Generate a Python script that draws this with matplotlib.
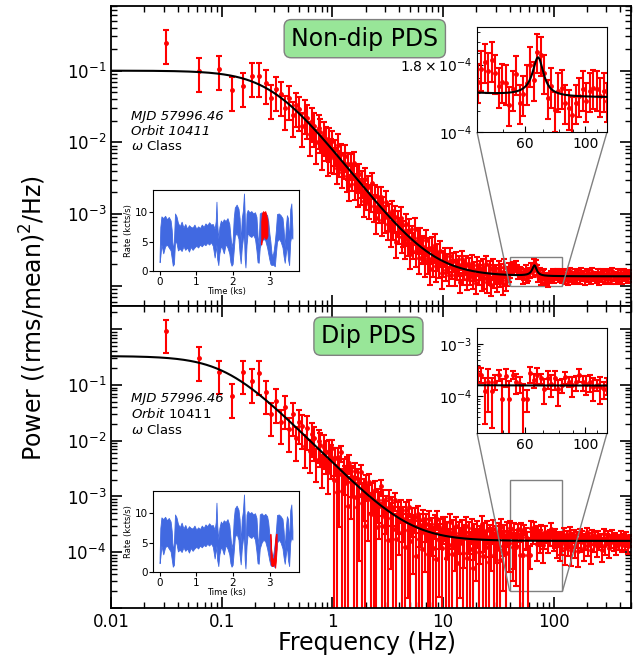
import numpy as np
import matplotlib
matplotlib.use("Agg")
import matplotlib.pyplot as plt
from matplotlib.ticker import LogLocator, NullFormatter, FixedLocator
from mpl_toolkits.axes_grid1.inset_locator import mark_inset

# frequency bins: 1/32 Hz steps below 1 Hz, then log bins (x1.03) up to 500 Hz
freq_lin = np.arange(1, 32) / 32.0
freq_log = 1.03 ** np.arange(211)

# ---- Non-dip PDS (top) ----
p_top_lin = [0.245, 0.100, 0.106, 0.054, 0.062, 0.085, 0.085, 0.068, 0.042, 0.055,
             0.047, 0.030, 0.041, 0.024, 0.033, 0.029, 0.017, 0.026, 0.022, 0.013,
             0.020, 0.017, 0.010, 0.016, 0.014, 0.0082, 0.013, 0.011, 0.0068, 0.0105,
             0.0075]
# in units of 1e-4
p_top_log = [103, 60, 78, 44, 92, 54, 68, 38, 51, 65,
             34, 50, 25, 49, 35, 52, 26, 33, 21, 36,
             22, 28, 15, 31, 19, 24, 14, 18, 27, 13,
             18, 8.8, 17, 12.5, 17, 8.3, 12.4, 9.1, 14.8, 7.3,
             9.7, 5.7, 10.9, 7.2, 9.1, 4.0, 7.9, 6.3, 8.8, 4.8,
             5.7, 3.9, 7.2, 4.3, 6.0, 2.8, 4.8, 3.9, 6.2, 3.0,
             4.6, 2.4, 4.6, 3.3, 3.5, 2.2, 4.3, 2.4, 3.3, 1.7,
             3.4, 2.2, 3.7, 1.9, 2.7, 2.1, 3.0, 1.5, 2.2,
             2.57, 1.67, 2.15, 1.41, 2.56, 1.75, 2.19, 1.40, 2.30, 1.72,
             1.97, 1.14, 2.35, 1.46, 1.70, 2.02, 1.25, 1.89, 1.47, 2.09,
             1.28, 1.66, 1.10, 1.95, 1.47, 1.69, 1.22, 1.81, 1.28, 2.01,
             1.12, 1.48, 1.69, 1.03, 1.83, 1.31, 1.51, 1.15, 1.72, 1.36,
             1.56, 1.07, 1.83, 1.20, 1.40, 1.61,
             1.55, 1.73, 1.84, 1.70, 1.87, 1.68, 1.49, 1.55, 1.53, 1.27,
             1.45, 1.66, 1.29, 1.39, 1.53, 1.79, 1.58, 2.01, 1.96, 1.68,
             1.35, 1.49, 1.21, 1.43, 1.47, 1.29, 1.23, 1.16, 1.29, 1.37,
             1.45, 1.31, 1.43, 1.47, 1.45, 1.37, 1.43, 1.31,
             1.51, 1.23, 1.44, 1.16, 1.58, 1.30, 1.37, 1.21, 1.53, 1.27,
             1.48, 1.23, 1.56, 1.32, 1.40, 1.18, 1.51, 1.29, 1.45, 1.22,
             1.55, 1.33, 1.37, 1.25, 1.49, 1.19, 1.53, 1.30, 1.42, 1.23,
             1.52, 1.27, 1.47, 1.21, 1.58, 1.32, 1.38, 1.23, 1.51, 1.29,
             1.44, 1.22, 1.53, 1.33, 1.41, 1.26, 1.48, 1.30]
# relative errors of the top PDS per frequency band (number of bins, rel. error)
top_err_bins = [79, 46, 38, 48]
top_err_rel = [0.40, 0.30, 0.17, 0.13]
top_err_lin_rel = 0.5

# fitted model: zero-centred Lorentzian + constant + QPO
top_fit = dict(amp=0.1, f0=0.29, const=1.35e-4, q_amp=0.55e-4, q_f=67.0, q_hw=3.5)

# ---- Dip PDS (bottom) ----
p_bot_lin = [0.93, 0.30, 0.17, 0.064, 0.17, 0.12, 0.165, 0.075, 0.030, 0.052,
             0.022, 0.040, 0.016, 0.030, 0.011, 0.022, 0.018, 0.008, 0.017, 0.0065,
             0.013, 0.011, 0.0045, 0.0098, 0.0085, 0.0035, 0.0078, 0.0062, 0.0028, 0.0065,
             0.0052]
bot_err_lin_rel = 0.6
p_bot_log = [74, 19.4, 48, 12.1, 52, 24.8, 62, 12.5, 28.8, 17.4,
             35, 6.7, 40, 17.9, 22.7, 9.8, 28.7, 6.4, 20.5, 10.8,
             27.4, 7.8, 12.3, 2.9, 16.1, 9.0, 18.2, 4.8, 11.4, 5.7,
             13.3, 2.8, 8.6, 6.8, 15.2, 3.0, 8.8, 4.2, 6.1, 1.65,
             9.3, 4.1, 6.4, 2.6, 8.6, 1.75, 5.1, 3.7, 6.1, 2.3,
             4.0, 1.24, 5.7, 2.5, 6.5, 1.57, 4.0, 2.5, 4.2, 0.84,
             4.9, 1.74, 3.1, 1.15, 4.0, 2.2, 3.2, 0.94, 3.9, 1.59,
             2.45, 1.21, 3.2, 0.75, 4.0, 1.66, 2.55, 1.21, 2.8,
             2.96, 0.78, 2.12, 1.34, 3.42, 0.94, 2.43, 1.67, 2.94, 0.64,
             2.18, 1.45, 2.61, 0.98, 1.78, 3.01, 0.79, 2.19, 1.13, 2.68,
             0.52, 1.97, 1.45, 2.38, 1.01, 1.77, 3.19, 0.84, 2.17, 1.25,
             2.49, 0.66, 1.98, 1.57, 2.62, 0.90, 1.80, 1.14, 2.20, 0.73,
             2.84, 1.30, 1.94, 0.97, 2.33, 1.45,
             2.7, 2.6, 1.25, 1.9, 1.25, 1.9, 2.6, 0.9, 2.4, 0.9,
             2.6, 1.9, 1.75, 0.9, 0.9, 2.73, 2.03, 2.6, 2.2, 1.4,
             2.2, 1.75, 2.2, 1.35, 1.65, 2.35, 1.89, 1.65, 1.89, 2.6,
             1.89, 1.75, 1.89, 1.5, 1.65, 1.5, 1.4, 1.65,
             2.08, 1.20, 1.84, 1.44, 2.24, 1.12, 1.68, 2.00, 1.28, 1.76,
             1.04, 2.16, 1.52, 1.92, 1.20, 1.60, 2.32, 1.36, 1.76, 1.12,
             2.08, 1.44, 1.84, 1.28, 2.00, 1.52, 1.68, 1.12, 2.16, 1.36,
             1.76, 1.92, 1.20, 1.60, 2.08, 1.44, 1.84, 1.28, 1.68, 1.52,
             2.00, 1.36, 1.76, 1.44, 1.92, 1.28, 1.60, 1.68]
e_bot_log = [29, 27, 25, 24.5, 23, 22, 20, 19, 18, 17.5,
             16.6, 15.7, 14.9, 14, 13.1, 12.5, 11.8, 11.3, 10.7, 10.1,
             9.6, 9.1, 8.6, 8.2, 7.8, 7.4, 7.1, 6.7, 6.4, 6.1,
             5.8, 5.5, 5.3, 5.1, 4.8, 4.6, 4.4, 4.2, 4.0, 3.85,
             3.7, 3.6, 3.4, 3.3, 3.15, 3.05, 3.0, 2.8, 2.7, 2.6,
             2.5, 2.45, 2.35, 2.35, 2.3, 2.2, 2.1, 2.1, 2.0, 1.9,
             1.9, 1.85, 1.85, 1.75, 1.75, 1.75, 1.65, 1.65, 1.6, 1.6,
             1.6, 1.6, 1.5, 1.5, 1.5, 1.5, 1.4, 1.4, 1.4,
             1.4, 1.3, 1.35, 1.25, 1.4, 1.3, 1.3, 1.2, 1.35, 1.3,
             1.25, 1.3, 1.2, 1.3, 1.25, 1.3, 1.2, 1.25, 1.2, 1.3,
             1.2, 1.25, 1.15, 1.2, 1.2, 1.15, 1.25, 1.2, 1.15, 1.2,
             1.1, 1.2, 1.15, 1.1, 1.2, 1.1, 1.15, 1.1, 1.1, 1.15,
             1.05, 1.1, 1.1, 1.05, 1.1, 1.0,
             0.9, 0.8, 0.95, 1.4, 1.0, 0.6, 0.6, 1.2, 0.9, 1.1,
             0.5, 0.8, 0.6, 0.85, 0.4, 0.9, 0.6, 0.9, 0.5, 0.7,
             0.8, 0.8, 0.9, 0.7, 0.5, 0.6, 0.4, 0.7, 0.6, 0.7,
             0.6, 0.7, 0.7, 0.7, 0.4, 0.8, 0.5, 0.6,
             0.6, 0.6, 0.55, 0.6, 0.55, 0.55, 0.5, 0.55, 0.5, 0.55,
             0.5, 0.5, 0.5, 0.45, 0.5, 0.5, 0.45, 0.5, 0.45, 0.5,
             0.45, 0.45, 0.5, 0.45, 0.45, 0.4, 0.45, 0.45, 0.4, 0.45,
             0.4, 0.45, 0.4, 0.4, 0.45, 0.4, 0.4, 0.4, 0.35, 0.4,
             0.4, 0.35, 0.4, 0.35, 0.4, 0.35, 0.35, 0.4]
bot_fit = dict(amp=0.33, f0=0.11, const=1.6e-4, q_amp=0.0, q_f=67.0, q_hw=3.5)

# ---- light curve (kcts/s vs ks), lower/upper envelope of the 1 s curve ----
lc_t = [0.00, 0.02, 0.05, 0.10, 0.15, 0.20, 0.25, 0.30, 0.33, 0.36, 0.39, 0.42, 0.46,
        0.50, 0.55, 0.60, 0.65, 0.70, 0.75, 0.80, 0.85, 0.90, 0.95, 1.00, 1.05, 1.10,
        1.15, 1.20, 1.25, 1.30, 1.35, 1.40, 1.45, 1.50, 1.53, 1.55, 1.57, 1.60, 1.63,
        1.67, 1.70, 1.75, 1.80, 1.85, 1.90, 1.93, 1.96, 1.99, 2.02, 2.05, 2.10, 2.15,
        2.18, 2.21, 2.24, 2.27, 2.30, 2.32, 2.34, 2.37, 2.40, 2.45, 2.50, 2.55, 2.60,
        2.64, 2.67, 2.70, 2.73, 2.78, 2.83, 2.88, 2.93, 2.96, 2.99, 3.02, 3.05, 3.08,
        3.11, 3.14, 3.17, 3.20, 3.25, 3.30, 3.35, 3.38, 3.41, 3.44, 3.47, 3.50, 3.53,
        3.56, 3.59, 3.62]
lc_lo = [1.5, 2.5, 4.5, 3.0, 4.2, 4.5, 4.0, 3.5, 2.2, 0.9, 1.2, 5.0, 4.8,
         3.5, 3.8, 3.4, 4.2, 3.6, 4.0, 3.3, 4.1, 3.6, 4.0, 4.3, 4.0, 4.5,
         4.2, 4.6, 4.4, 4.8, 4.5, 4.9, 4.3, 2.3, 3.5, 4.5, 2.0, 1.0, 3.0,
         4.2, 4.0, 3.0, 4.6, 4.0, 3.0, 1.5, 0.9, 1.2, 3.5, 6.0, 6.5, 5.5,
         3.0, 1.3, 4.0, 5.5, 6.0, 2.0, 0.6, 4.5, 6.5, 6.0, 5.8, 6.2, 5.5,
         3.5, 1.5, 1.4, 4.0, 5.0, 5.5, 5.2, 4.0, 3.0, 2.0, 1.2, 1.0, 1.1,
         1.0, 0.8, 3.0, 5.0, 5.5, 5.0, 4.0, 2.5, 1.4, 3.0, 4.5, 2.0, 1.0,
         5.0, 6.0, 5.5]
lc_hi = [2.5, 7.5, 9.3, 9.0, 9.4, 8.8, 9.2, 8.6, 7.0, 3.5, 5.0, 9.8, 9.3,
         8.2, 7.6, 8.4, 7.4, 8.0, 7.2, 7.8, 7.5, 7.4, 7.9, 7.2, 7.6, 7.3,
         7.9, 7.5, 8.1, 7.8, 8.3, 7.9, 8.0, 7.2, 8.5, 11.8, 8.0, 5.5, 7.5,
         8.6, 8.2, 8.8, 8.5, 9.0, 8.0, 6.0, 4.0, 5.0, 9.0, 10.8, 11.3, 10.6,
         9.0, 5.0, 9.0, 10.3, 13.2, 9.5, 4.0, 9.8, 10.4, 10.0, 10.2, 9.8, 10.0,
         9.2, 6.0, 4.5, 9.8, 10.0, 9.6, 9.9, 9.5, 8.5, 6.5, 5.0, 3.0, 2.5,
         3.5, 5.0, 7.0, 9.7, 9.8, 9.5, 9.0, 7.0, 4.0, 7.5, 9.5, 9.0, 5.0,
         10.5, 11.5, 7.0]
# time span of each PDS selection (red)
sel_top_t = [2.77, 2.79, 2.82, 2.85, 2.88, 2.91, 2.94]
sel_top_lo = [4.5, 5.5, 5.5, 6.0, 5.5, 5.5, 6.0]
sel_top_hi = [8.5, 9.8, 10.2, 10.0, 10.2, 9.5, 8.5]
sel_bot_t = [3.02, 3.04, 3.07, 3.10, 3.13, 3.15, 3.17, 3.19]
sel_bot_lo = [2.0, 1.2, 1.0, 1.1, 1.5, 0.7, 2.0, 4.0]
sel_bot_hi = [6.5, 4.0, 2.5, 2.0, 3.0, 5.5, 6.5, 6.5]

# ------------------------------------------------------------------
freqs = np.concatenate([freq_lin, freq_log])
pt = np.concatenate([p_top_lin, np.array(p_top_log) * 1e-4])
et = np.concatenate([np.array(p_top_lin) * top_err_lin_rel,
                     np.array(p_top_log) * 1e-4 * np.repeat(top_err_rel, top_err_bins)])
pb = np.concatenate([p_bot_lin, np.array(p_bot_log) * 1e-4])
eb = np.concatenate([np.array(p_bot_lin) * bot_err_lin_rel, np.array(e_bot_log) * 1e-4])

fm = np.logspace(-2, np.log10(500), 2000)


def model(f, p):
    return (p['amp'] / (1 + (f / p['f0']) ** 2) + p['const']
            + p['q_amp'] / (1 + ((f - p['q_f']) / p['q_hw']) ** 2))


def draw_pds(ax, p, e, fit, ms=2.5):
    ax.errorbar(freqs, p, yerr=e, fmt='o', ms=ms, color='red', ecolor='red',
                elinewidth=1.5, capsize=2, capthick=1.5, zorder=2)
    ax.plot(fm, model(fm, fit), color='black', lw=1.5, zorder=3)
    ax.set_xscale('log')
    ax.set_yscale('log')


def style_main(ax):
    ax.tick_params(which='both', direction='in', top=True, right=True)
    ax.tick_params(which='major', length=8, width=1.2, labelsize=12)
    ax.tick_params(which='minor', length=4, width=1)
    for s in ax.spines.values():
        s.set_linewidth(1.3)
    ax.set_xlim(0.01, 500)
    ax.set_xticks([0.01, 0.1, 1, 10, 100], ['0.01', '0.1', '1', '10', '100'])


def draw_lc(ax, st, slo, shi):
    ax.fill_between(lc_t, lc_lo, lc_hi, color='royalblue', lw=0.6)
    ax.fill_between(st, slo, shi, color='red', lw=0.6)
    ax.set_xlim(-0.18, 3.80)
    ax.set_ylim(0, 13.8)
    ax.set_xticks([0, 1, 2, 3])
    ax.set_yticks([0, 5, 10])
    ax.tick_params(direction='out', length=3, width=0.8, labelsize=7.5, pad=1)
    ax.set_xlabel('Time (ks)', fontsize=6, labelpad=0)
    ax.set_ylabel('Rate (kcts/s)', fontsize=6, labelpad=1)


def draw_zoom(ax, parent, p, e, fit, ylim):
    draw_pds(ax, p, e, fit, ms=2.5)
    ax.set_xlim(40, 120)
    ax.set_ylim(*ylim)
    ax.xaxis.set_major_locator(FixedLocator([60, 100]))
    ax.set_xticklabels(['60', '100'])
    ax.xaxis.set_minor_locator(FixedLocator([40, 50, 70, 80, 90, 110, 120]))
    ax.xaxis.set_minor_formatter(NullFormatter())
    ax.tick_params(which='both', direction='in', labelsize=10)
    ax.tick_params(which='major', length=4)
    ax.tick_params(which='minor', length=2)
    mark_inset(parent, ax, loc1=3, loc2=4, fc='none', ec='0.5', lw=1)


fig = plt.figure(figsize=(6.33, 6.64), dpi=100)
ax_top = fig.add_axes([0.1754, 0.5392, 0.8215, 0.4518])
ax_bot = fig.add_axes([0.1754, 0.0843, 0.8215, 0.4548])

# top panel
draw_pds(ax_top, pt, et, top_fit)
style_main(ax_top)
ax_top.set_ylim(5.2e-5, 0.8)
ax_top.set_yticks([1e-4, 1e-3, 1e-2, 1e-1], ['', r'$10^{-3}$', r'$10^{-2}$', r'$10^{-1}$'])
ax_top.yaxis.set_minor_locator(LogLocator(base=10, subs=np.arange(2, 10), numticks=20))
ax_top.yaxis.set_minor_formatter(NullFormatter())
ax_top.tick_params(labelbottom=False)
ax_top.text(0.488, 0.891, 'Non-dip PDS', transform=ax_top.transAxes, fontsize=17,
            ha='center', va='center',
            bbox=dict(boxstyle='round,pad=0.3', fc='#98e698', ec='0.5'))
ax_top.text(0.038, 0.631, 'MJD 57996.46', transform=ax_top.transAxes, fontsize=9.5,
            style='italic', va='center')
ax_top.text(0.038, 0.582, 'Orbit 10411', transform=ax_top.transAxes, fontsize=9.5,
            style='italic', va='center')
ax_top.text(0.038, 0.534, r'$\omega$ Class', transform=ax_top.transAxes, fontsize=9.5,
            va='center')

# bottom panel
draw_pds(ax_bot, pb, eb, bot_fit)
style_main(ax_bot)
ax_bot.set_ylim(1e-5, 2.6)
ax_bot.set_yticks([1e-5, 1e-4, 1e-3, 1e-2, 1e-1, 1],
                  ['', r'$10^{-4}$', r'$10^{-3}$', r'$10^{-2}$', r'$10^{-1}$', ''])
ax_bot.yaxis.set_minor_locator(LogLocator(base=10, subs=np.arange(2, 10), numticks=20))
ax_bot.yaxis.set_minor_formatter(NullFormatter())
ax_bot.text(0.495, 0.9, 'Dip PDS', transform=ax_bot.transAxes, fontsize=17,
            ha='center', va='center',
            bbox=dict(boxstyle='round,pad=0.3', fc='#98e698', ec='0.5'))
ax_bot.text(0.038, 0.694, 'MJD 57996.46', transform=ax_bot.transAxes, fontsize=9.5,
            style='italic', va='center')
ax_bot.text(0.038, 0.641, r'$\it{Orbit}$ 10411', transform=ax_bot.transAxes, fontsize=9.5,
            va='center')
ax_bot.text(0.038, 0.589, r'$\omega$ Class', transform=ax_bot.transAxes, fontsize=9.5,
            va='center')

# zoom insets around the QPO band
zin_top = fig.add_axes([0.7536, 0.8012, 0.2054, 0.1581])
draw_zoom(zin_top, ax_top, pt, et, top_fit, (1e-4, 2.5e-4))
zin_top.yaxis.set_major_locator(FixedLocator([1e-4, 1.8e-4]))
zin_top.set_yticklabels([r'$10^{-4}$', r'$1.8\times10^{-4}$'])
zin_top.yaxis.set_minor_locator(FixedLocator([1.2e-4, 1.4e-4, 1.6e-4, 2.0e-4, 2.2e-4, 2.4e-4]))
zin_top.yaxis.set_minor_formatter(NullFormatter())

zin_bot = fig.add_axes([0.7536, 0.3479, 0.2054, 0.1581])
draw_zoom(zin_bot, ax_bot, pb, eb, bot_fit, (2e-5, 2e-3))
zin_bot.yaxis.set_minor_formatter(NullFormatter())

# light curve insets
lc_top = fig.add_axes([0.2417, 0.5919, 0.2307, 0.122])
draw_lc(lc_top, sel_top_t, sel_top_lo, sel_top_hi)
lc_bot = fig.add_axes([0.2417, 0.1386, 0.2307, 0.122])
draw_lc(lc_bot, sel_bot_t, sel_bot_lo, sel_bot_hi)

fig.text(0.052, 0.521, r'Power ((rms/mean)$^2$/Hz)', rotation=90, fontsize=17,
         ha='center', va='center')
fig.text(0.58, 0.032, 'Frequency (Hz)', fontsize=17, ha='center', va='center')

fig.savefig('out.png', dpi=100)
